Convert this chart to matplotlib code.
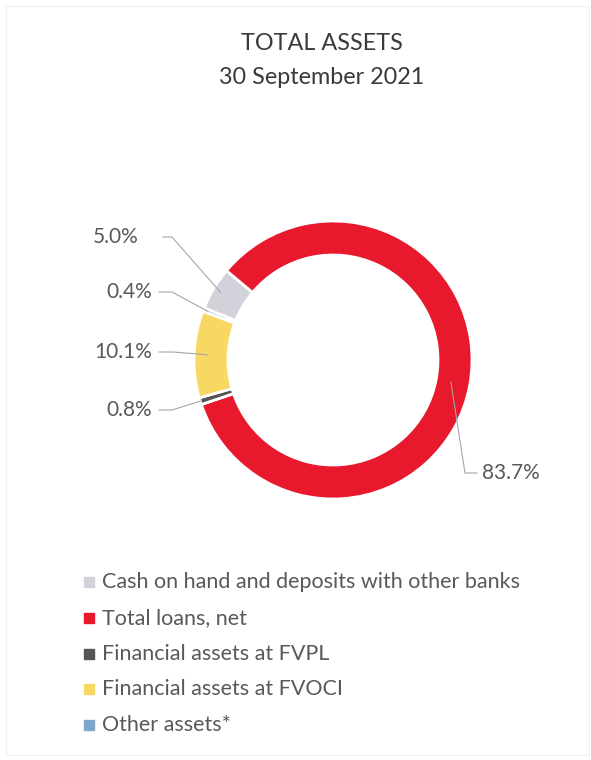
import numpy as np
import matplotlib
matplotlib.use("Agg")
import matplotlib.pyplot as plt
from matplotlib.patches import Rectangle

# Asset mix, share of total assets (%)
categories = [
    "Cash on hand and deposits with other banks",
    "Total loans, net",
    "Financial assets at FVPL",
    "Financial assets at FVOCI",
    "Other assets*",
]
shares = [5.0, 83.7, 0.8, 10.1, 0.4]
colors = ["#d2d3da", "#e8192c", "#555555", "#f8d762", "#7fa6cc"]
title_lines = ["TOTAL ASSETS", "30 September 2021"]

W, H = 591, 760
fig = plt.figure(figsize=(W / 100, H / 100), dpi=100)
ax = fig.add_axes([0, 0, 1, 1])
plt.rcParams["font.family"] = ["Lato", "DejaVu Sans"]


def Y(y):
    # convert a top-down pixel row into the axes' y coordinate
    return H - y


cx, cy, R, ring = 333, Y(360), 139, 34
wedges, _ = ax.pie(
    shares, colors=colors, startangle=158, counterclock=False,
    radius=R, center=(cx, cy),
    wedgeprops=dict(width=ring, edgecolor="white", linewidth=2),
)
ax.set_xlim(0, W)
ax.set_ylim(0, H)
ax.set_aspect("equal")
ax.axis("off")

# faint outer frame
ax.add_patch(Rectangle((6, Y(755)), 583, 749, fill=False,
                       edgecolor="#f0f0f0", linewidth=0.8))

text_col = "#595959"
for i, line in enumerate(title_lines):
    ax.text(322, Y(43 + 35 * i), line, ha="center", va="center",
            fontsize=16.8, color="#3a3a3a")

# data labels with leader lines
label_specs = {
    # index: (text x, text y, anchor radius, elbow x)
    0: (139, 237, 131, 172),
    4: (152, 292, 135, 172),
    3: (152, 352, 126, 173),
    2: (152, 410, 139, 172),
}
for i, (tx, ty, r, ex) in label_specs.items():
    w = wedges[i]
    mid = np.deg2rad((w.theta1 + w.theta2) / 2)
    px, py = cx + r * np.cos(mid), cy + r * np.sin(mid)
    start = tx + 7 if i != 0 else 163
    ax.plot([start, ex, px], [Y(ty), Y(ty), py], color="#a6a6a6", lw=0.8)
    ax.text(tx, Y(ty), f"{shares[i]:.1f}%", ha="right", va="center",
            fontsize=15, color=text_col)

w = wedges[1]
mid = np.deg2rad((w.theta1 + w.theta2) / 2)
px, py = cx + 120 * np.cos(mid), cy + 120 * np.sin(mid)
ax.plot([px, 465, 477], [py, Y(473), Y(473)], color="#a6a6a6", lw=0.8)
ax.text(482, Y(473), f"{shares[1]:.1f}%", ha="left", va="center",
        fontsize=15, color=text_col)

# legend
for i, (name, col) in enumerate(zip(categories, colors)):
    yy = Y(582 + 35.8 * i)
    ax.plot([88.5], [yy], marker="s", markersize=6.5, color=col, lw=0)
    ax.text(102, yy, name, ha="left", va="center", fontsize=15.5,
            color=text_col)

fig.savefig("out.png", dpi=100, facecolor="white")
